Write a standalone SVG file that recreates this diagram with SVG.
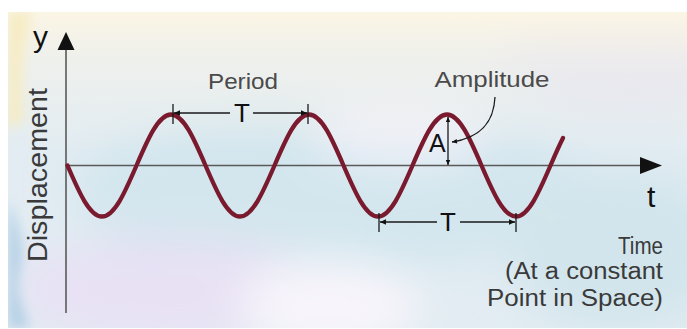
<svg xmlns="http://www.w3.org/2000/svg" width="687" height="329" viewBox="0 0 687 329">
  <defs>
    <filter id="soft" x="-30%" y="-30%" width="160%" height="160%">
      <feGaussianBlur stdDeviation="22"/>
    </filter>
    <filter id="soft2" x="-30%" y="-30%" width="160%" height="160%">
      <feGaussianBlur stdDeviation="6"/>
    </filter>
    <clipPath id="frame">
      <rect x="8" y="12" width="679" height="316"/>
    </clipPath>
    <linearGradient id="topfade" x1="0" y1="0" x2="0" y2="1">
      <stop offset="0" stop-color="#fbf5e4"/>
      <stop offset="0.35" stop-color="#f4f2ea" stop-opacity="0.7"/>
      <stop offset="1" stop-color="#f4f2ea" stop-opacity="0"/>
    </linearGradient>
    <marker id="arr" viewBox="0 0 10 10" refX="10" refY="5" markerWidth="8" markerHeight="6" markerUnits="userSpaceOnUse" orient="auto-start-reverse">
      <path d="M0,0.5 L10,5 L0,9.5 z" fill="#111"/>
    </marker>
    <marker id="arrS" viewBox="0 0 10 10" refX="10" refY="5" markerWidth="6" markerHeight="5" markerUnits="userSpaceOnUse" orient="auto-start-reverse">
      <path d="M0,0.5 L10,5 L0,9.5 z" fill="#111"/>
    </marker>
    <style>
      .axis { stroke: #5a5a5a; stroke-width: 1.6; fill: none; }
      .dim { stroke: #1a1a1a; stroke-width: 1.3; fill: none; }
      .tick { stroke: #1a1a1a; stroke-width: 1.3; }
      .wave { stroke: #7a1a2e; stroke-width: 4.3; fill: none; stroke-linecap: round; stroke-linejoin: round; }
      .lbl { font-family: "Liberation Sans", Arial, sans-serif; fill: #3a3a3a; }
      .soft { font-family: "Liberation Sans", Arial, sans-serif; fill: #4a4a4a; }
      .big { font-family: "Liberation Sans", Arial, sans-serif; fill: #111; }
    </style>
  </defs>

  <g id="background">
    <rect x="0" y="0" width="687" height="329" fill="#ffffff"/>
    <g clip-path="url(#frame)">
      <rect x="8" y="12" width="679" height="316" fill="#e2ecf2"/>
      <g filter="url(#soft)">
        <ellipse cx="330" cy="190" rx="260" ry="80" fill="#d3e6ee"/>
        <ellipse cx="630" cy="45" rx="130" ry="55" fill="#dcdcf4"/>
        <ellipse cx="170" cy="290" rx="160" ry="50" fill="#e8e1f4"/>
        <ellipse cx="330" cy="305" rx="90" ry="45" fill="#f8f5fb"/>
        <ellipse cx="620" cy="250" rx="110" ry="80" fill="#d2e5ec"/>
        <ellipse cx="400" cy="130" rx="90" ry="35" fill="#eef0f8"/>
      </g>
      <rect x="8" y="12" width="679" height="140" fill="url(#topfade)"/>
      <g filter="url(#soft2)">
        <path d="M8,12 L32,12 C24,40 20,80 24,120 L8,130 z" fill="#f6ecc4"/>
        <path d="M8,200 C20,230 26,250 20,270 C14,290 24,310 30,328 L8,328 z" fill="#b6d1e6"/>
      </g>
    </g>
  </g>

  <g id="axes">
    <line class="axis" x1="66" y1="48" x2="66" y2="313"/>
    <path d="M66,32 L74.5,50 L57.5,50 z" fill="#111"/>
    <line class="axis" x1="66" y1="165.5" x2="642" y2="165.5"/>
    <path d="M662,165.5 L640,157 L640,174 z" fill="#111"/>
    <text class="big" x="33" y="47" font-size="30">y</text>
    <text class="big" x="647" y="207" font-size="30">t</text>
    <text class="lbl" font-size="27" textLength="174" lengthAdjust="spacingAndGlyphs" transform="translate(47,262) rotate(-90)" fill="#222">Displacement</text>
  </g>

  <g id="wave">
    <path class="wave" d="M67.5,165.5 c11.53,26.78 22.08,51 34.5,51 s22.97,-24.22 34.5,-51 s22.08,-51 34.5,-51 s22.97,24.22 34.5,51 s22.08,51 34.5,51 s22.97,-24.22 34.5,-51 s22.08,-51 34.5,-51 s22.97,24.22 34.5,51 s22.08,51 34.5,51 s22.97,-24.22 34.5,-51 s22.08,-51 34.5,-51 s22.97,24.22 34.5,51 s22.08,51 34.5,51 s22.97,-24.22 34.5,-51 c4.17,-9.68 8.33,-19.35 12.5,-27.5"/>
  </g>

  <g id="connectors">
    <line class="dim" x1="174" y1="113" x2="230" y2="113" marker-start="url(#arr)"/>
    <line class="dim" x1="253" y1="113" x2="307" y2="113" marker-end="url(#arr)"/>
    <line class="tick" x1="173" y1="104" x2="173" y2="124"/>
    <line class="tick" x1="308" y1="104" x2="308" y2="124"/>
    <line class="dim" x1="380" y1="222" x2="437" y2="222" marker-start="url(#arr)"/>
    <line class="dim" x1="460" y1="222" x2="515" y2="222" marker-end="url(#arr)"/>
    <line class="tick" x1="379" y1="213" x2="379" y2="232"/>
    <line class="tick" x1="516" y1="213" x2="516" y2="232"/>
    <line class="dim" x1="448" y1="117" x2="448" y2="165" marker-start="url(#arrS)" marker-end="url(#arrS)"/>
    <path class="dim" d="M495,97 C494,118 485,137 452,142" stroke-width="1.1" marker-end="url(#arrS)"/>
  </g>

  <g id="period-top">
    <text class="soft" x="243" y="89" font-size="22" text-anchor="middle" textLength="70" lengthAdjust="spacingAndGlyphs">Period</text>
    <text class="big" x="242" y="122" font-size="26" text-anchor="middle" fill="#222">T</text>
  </g>

  <g id="period-bottom">
    <text class="big" x="448" y="231" font-size="26" text-anchor="middle" fill="#222">T</text>
  </g>

  <g id="amplitude">
    <text class="soft" x="492" y="87" font-size="22" text-anchor="middle" textLength="115" lengthAdjust="spacingAndGlyphs">Amplitude</text>
    <text class="big" x="429" y="152" font-size="25" fill="#333">A</text>
  </g>

  <g id="time-label">
    <text class="lbl" x="663" y="254" font-size="23" text-anchor="end" textLength="45" lengthAdjust="spacingAndGlyphs">Time</text>
    <text class="lbl" x="663" y="279" font-size="23" text-anchor="end" textLength="158" lengthAdjust="spacingAndGlyphs">(At a constant</text>
    <text class="lbl" x="663" y="306" font-size="23" text-anchor="end" textLength="176" lengthAdjust="spacingAndGlyphs">Point in Space)</text>
  </g>
</svg>
